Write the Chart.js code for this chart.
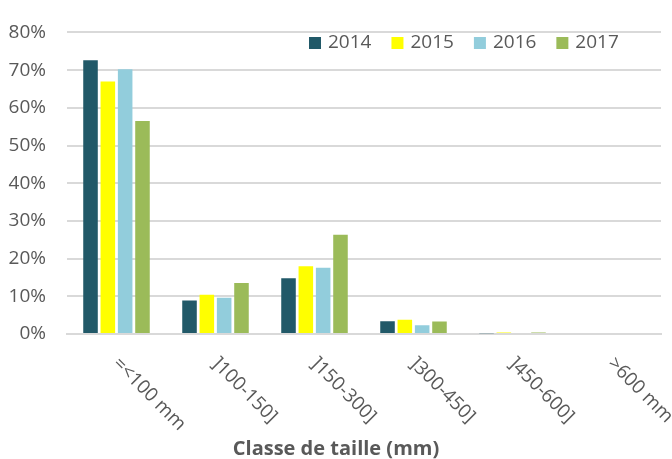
<!DOCTYPE html>
<html>
<head>
<meta charset="utf-8">
<script src="https://cdn.jsdelivr.net/npm/chart.js@4/dist/chart.umd.min.js"></script>
<style>
  html, body { margin: 0; padding: 0; background: #ffffff; }
  #wrap { width: 672px; height: 459px; position: relative; }
</style>
</head>
<body>
<div id="wrap"><canvas id="c" width="672" height="459"></canvas></div>
<script>
const categories = ["=<100 mm", "]100-150]", "]150-300]", "]300-450]", "]450-600]", ">600 mm"];
const seriesNames = ["2014", "2015", "2016", "2017"];
const values2014 = [72.6, 8.9, 14.8, 3.4, 0.2, 0];
const values2015 = [67.0, 10.4, 18.0, 3.8, 0.4, 0];
const values2016 = [70.2, 9.6, 17.6, 2.3, 0, 0];
const values2017 = [56.5, 13.5, 26.3, 3.3, 0.4, 0];
const yTicks = [0, 10, 20, 30, 40, 50, 60, 70, 80];
const axisTitle = "Classe de taille (mm)";

const colors = ["#215968", "#FFFF00", "#92CDDC", "#9BBB59"];
const textColor = "#595959";
const FONT = "'Open Sans', 'Liberation Sans', sans-serif";

const allValues = [values2014, values2015, values2016, values2017];

const customDraw = {
  id: 'customDraw',
  afterDraw(chart) {
    const ctx = chart.ctx;
    const xs = chart.scales.x;
    ctx.save();
    ctx.fillStyle = textColor;
    // rotated category labels
    ctx.font = "19px " + FONT;
    ctx.textAlign = 'left';
    ctx.textBaseline = 'top';
    categories.forEach((lab, i) => {
      const cx = xs.getPixelForTick(i);
      ctx.save();
      ctx.translate(cx + 6, xs.top + 20);
      ctx.rotate(Math.PI / 4);
      ctx.fillText(lab, 0, 0);
      ctx.restore();
    });
    // axis title
    ctx.font = "bold 20px " + FONT;
    ctx.textAlign = 'center';
    ctx.textBaseline = 'middle';
    ctx.fillText(axisTitle, chart.width / 2, 449);
    // legend
    ctx.font = "19px " + FONT;
    ctx.textAlign = 'left';
    ctx.textBaseline = 'middle';
    let x = 309;
    const yc = 43;
    chart.data.datasets.forEach((ds) => {
      ctx.fillStyle = ds.backgroundColor;
      ctx.fillRect(x, yc - 6, 12, 12);
      ctx.fillStyle = textColor;
      ctx.fillText(ds.label, x + 19, yc);
      x += 19 + ctx.measureText(ds.label).width + 20;
    });
    ctx.restore();
  }
};

new Chart(document.getElementById('c'), {
  type: 'bar',
  data: {
    labels: categories,
    datasets: seriesNames.map((name, i) => ({
      label: name,
      data: allValues[i],
      backgroundColor: colors[i],
      borderWidth: 0,
      categoryPercentage: 0.7,
      barPercentage: 0.84
    }))
  },
  options: {
    responsive: false,
    animation: false,
    devicePixelRatio: 1,
    layout: { padding: { left: 0, right: 11, top: 21, bottom: 0 } },
    plugins: {
      legend: { display: false },
      tooltip: { enabled: false },
      title: { display: false }
    },
    scales: {
      x: {
        grid: { display: false, drawTicks: false },
        border: { display: true, color: '#d9d9d9', width: 2 },
        ticks: { display: false },
        afterFit(s) { s.height = 125; }
      },
      y: {
        min: 0,
        max: 80,
        afterBuildTicks(s) { s.ticks = yTicks.map(v => ({ value: v })); },
        grid: { color: '#d9d9d9', lineWidth: 2, drawTicks: false },
        border: { display: false },
        ticks: {
          color: textColor,
          font: { family: FONT, size: 19 },
          padding: 21,
          callback: v => v + '%'
        },
        afterFit(s) { s.width = 67; }
      }
    }
  },
  plugins: [customDraw]
});
</script>
</body>
</html>
